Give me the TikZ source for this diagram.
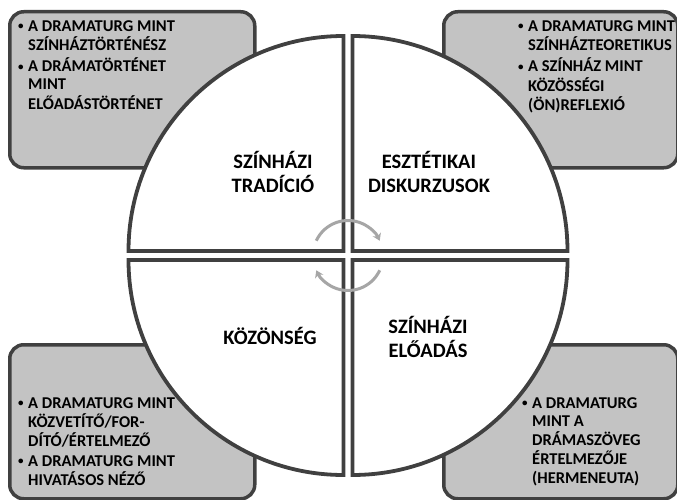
\documentclass[tikz,border=0pt]{standalone}
\usepackage{fontspec}
\setmainfont{Carlito}
\usepackage{xcolor}
\usetikzlibrary{arrows.meta,positioning}

\definecolor{edge}{HTML}{404040}
\definecolor{boxgray}{HTML}{C3C3C3}
\definecolor{arcgray}{HTML}{A6A6A6}
\newcommand{\bul}{\makebox[10pt][l]{\raisebox{1.5pt}{\fontsize{11}{11}\selectfont\textbullet}}}

\begin{document}
\begin{tikzpicture}[
  x=1pt, y=1pt, >=Stealth,
  infobox/.style={draw=edge, line width=3.5pt, rounded corners=14pt, fill=boxgray, minimum width=245pt, minimum height=156pt, anchor=north west, inner sep=0pt},
  quarter/.style={draw=edge, line width=3.8pt, fill=white},
  itemtext/.style={font=\fontsize{16.5}{18.3}\selectfont\bfseries, anchor=base west, inner sep=0pt, align=left},
  quartext/.style={font=\fontsize{20.5}{24.5}\selectfont\bfseries, align=center, inner sep=0pt},
  cycarrow/.style={draw=arcgray, line width=3pt, -{Stealth[length=7pt,width=9pt]}}
]
\useasboundingbox (0,0) rectangle (677,499);

% corner boxes
\node[infobox] (boxtl) at (8,489) {};
\node[infobox, minimum width=234pt] (boxtr) at (442,489) {};
\node[infobox, minimum height=154pt] (boxbl) at (8,156) {};
\node[infobox, minimum width=234pt, minimum height=154pt] (boxbr) at (442,156) {};

% circle quarters
\coordinate (hub) at (348,243.5);
\draw[quarter] (343.5,248) -- ++(-215,0) arc[start angle=180, end angle=90, radius=215] -- cycle;
\draw[quarter] (352.5,248) -- ++(0,215) arc[start angle=90, end angle=0, radius=215] -- cycle;
\draw[quarter] (343.5,239) -- ++(-215,0) arc[start angle=180, end angle=270, radius=215] -- cycle;
\draw[quarter] (352.5,239) -- ++(215,0) arc[start angle=0, end angle=-90, radius=215] -- cycle;

\node[quartext] (tradicio) at (273,327) {SZÍNHÁZI\\TRADÍCIÓ};
\node[quartext] (diskurzus) at (429,327) {ESZTÉTIKAI\\DISKURZUSOK};
\node[quartext] (kozonseg) at (270,163) {KÖZÖNSÉG};
\node[quartext] (eloadas) at (428,162) {SZÍNHÁZI\\ELŐADÁS};

\draw[cycarrow] ([shift={(155:35)}]hub) arc[start angle=155, end angle=25, radius=35];
\draw[cycarrow] ([shift={(-25:35)}]hub) arc[start angle=-25, end angle=-155, radius=35];

% box texts
\node[itemtext] (texttl) at (18,467.5) {\begin{tabular}[t]{@{}l@{}l@{}}
\bul & A DRAMATURG MINT\\
 & SZÍNHÁZTÖRTÉNÉSZ\\[1.5pt]
\bul & A DRÁMATÖRTÉNET\\
 & MINT\\
 & ELŐADÁSTÖRTÉNET
\end{tabular}};
\node[itemtext] (texttr) at (518,467.5) {\begin{tabular}[t]{@{}l@{}l@{}}
\bul & A DRAMATURG MINT\\
 & SZÍNHÁZTEORETIKUS\\[1.5pt]
\bul & A SZÍNHÁZ MINT\\
 & KÖZÖSSÉGI\\
 & (ÖN)REFLEXIÓ
\end{tabular}};
\node[itemtext] (textbl) at (18,91) {\begin{tabular}[t]{@{}l@{}l@{}}
\bul & A DRAMATURG MINT\\
 & KÖZVETÍTŐ/FOR-\\
 & DÍTÓ/ÉRTELMEZŐ\\[1.5pt]
\bul & A DRAMATURG MINT\\
 & HIVATÁSOS NÉZŐ
\end{tabular}};
\node[itemtext] (textbr) at (522,91) {\begin{tabular}[t]{@{}l@{}l@{}}
\bul & A DRAMATURG\\
 & MINT A\\
 & DRÁMASZÖVEG\\
 & ÉRTELMEZŐJE\\
 & (HERMENEUTA)
\end{tabular}};

\end{tikzpicture}
\end{document}
